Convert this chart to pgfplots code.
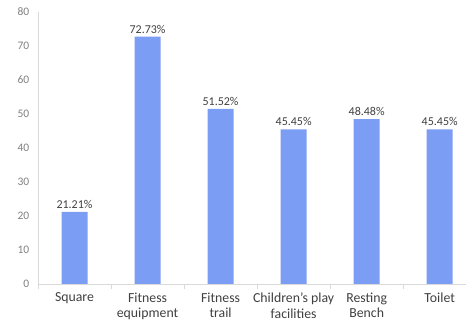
\documentclass[border=0pt]{standalone}
\usepackage{pgfplots}
\pgfplotsset{compat=1.18}
\usepackage{fontspec}
\setmainfont{Carlito}
\definecolor{barblue}{RGB}{124,157,244}
\definecolor{axgray}{RGB}{217,217,217}
\definecolor{labgray}{RGB}{64,64,64}
\definecolor{tickgray}{RGB}{128,128,128}
\begin{document}
\begin{tikzpicture}
\path[use as bounding box] (-38pt,-40pt) rectangle (428pt,284pt);
\begin{axis}[
  scale only axis,
  width=428pt, height=272pt,
  xmin=-0.5, xmax=5.36,
  ymin=0, ymax=80,
  axis x line*=bottom,
  axis y line*=left,
  axis line style={draw=axgray, line width=0.8pt},
  ytick={0,10,...,80},
  ytick style={draw=none},
  yticklabel style={font=\fontsize{11.5}{12}\selectfont, text=tickgray, xshift=-1pt},
  /pgf/number format/assume math mode=true,
  xtick={0,1,2,3,4,5},
  xticklabels={Square, Fitness\\equipment, Fitness\\trail, Children's play\\facilities, Resting\\Bench, Toilet},
  xticklabel style={font=\fontsize{13.8}{15.5}\selectfont, text=labgray, align=center, yshift=-1pt},
  major x tick style={draw=none},
  minor xtick={-0.5,0.5,1.5,2.5,3.5,4.5},
  minor x tick style={draw=axgray, line width=0.8pt},
  minor tick length=5pt,
  tick align=outside,
  ybar,
  bar width=0.356,
  nodes near coords={\pgfmathprintnumber[fixed,precision=2,fixed zerofill]{\pgfplotspointmeta}\%},
  every node near coord/.append style={font=\fontsize{12}{13}\selectfont, text=labgray, yshift=0pt},
  clip=false,
]
\addplot[fill=barblue, draw=none] coordinates {(0,21.21) (1,72.73) (2,51.52) (3,45.45) (4,48.48) (5,45.45)};
\end{axis}
\end{tikzpicture}
\end{document}
